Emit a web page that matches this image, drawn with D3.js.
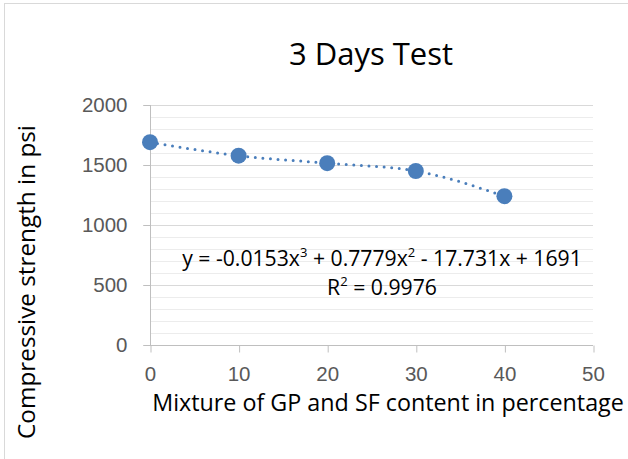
<!DOCTYPE html>
<html>
<head>
<meta charset="utf-8">
<script src="https://cdn.jsdelivr.net/npm/d3@7"></script>
<style>
  body{margin:0;background:#fff;}
  svg{display:block;font-family:"Open Sans",sans-serif;}
  .grid-major line{stroke:#d9d9d9;stroke-width:1;}
  .grid-minor line{stroke:#ececec;stroke-width:1;}
  .axis path,.axis line{stroke:#bfbfbf;stroke-width:1;}
  .axis text{fill:#595959;font-size:20.5px;}
  .trend{fill:none;stroke:#4a7ebb;stroke-width:3;stroke-linecap:round;stroke-dasharray:0 7.6;}
  .dot{fill:#4a7ebb;}
</style>
</head>
<body>
<div id="chart"></div>
<script>
const mixture=[0,10,20,30,40];
const strength=[1690,1578,1515,1450,1240];
const xTicks=[0,10,20,30,40,50];
const yTicks=[0,500,1000,1500,2000];
const yMinor=d3.range(0,2001,100);
const title='3 Days Test';
const xTitle='Mixture of GP and SF content in percentage';
const yTitle='Compressive strength in psi';

const width=628,height=459;
const margin={top:105,right:35,bottom:114,left:150},
      W=width-margin.left-margin.right,
      H=height-margin.top-margin.bottom;

const svg=d3.select('#chart').append('svg')
  .attr('width',width).attr('height',height);

svg.append('rect')
  .attr('x',4.5).attr('y',3.5).attr('width',700).attr('height',700)
  .attr('fill','#fff').attr('stroke','#d9d9d9');

const g=svg.append('g').attr('transform',`translate(${margin.left},${margin.top})`);

const x=d3.scaleLinear().domain([0,50]).range([0,W]);
const y=d3.scaleLinear().domain([0,2000]).range([H,0]);

// minor gridlines
g.append('g').attr('class','grid-minor')
  .selectAll('line').data(yMinor.filter(v=>v%500!==0)).enter().append('line')
  .attr('x1',0).attr('x2',W)
  .attr('y1',d=>Math.round(y(d))+.5).attr('y2',d=>Math.round(y(d))+.5);

// major gridlines with tick stubs
g.append('g').attr('class','grid-major')
  .selectAll('line').data(yTicks).enter().append('line')
  .attr('x1',-7).attr('x2',W)
  .attr('y1',d=>Math.round(y(d))+.5).attr('y2',d=>Math.round(y(d))+.5);

// y axis
const yAxis=g.append('g').attr('class','axis y')
  .attr('transform','translate(0.5,0)')
  .call(d3.axisLeft(y).tickValues(yTicks).tickSize(7).tickPadding(16).tickFormat(d3.format('d')));
yAxis.select('.domain').attr('d',`M0,${y(2000)}V${y(0)}`);

// x axis
const xAxis=g.append('g').attr('class','axis x')
  .attr('transform',`translate(0,${Math.round(H)+.5})`)
  .call(d3.axisBottom(x).tickValues(xTicks).tickSize(7).tickPadding(14).tickFormat(d3.format('d')));
xAxis.select('.domain').attr('d',`M0,0H${W}`);
xAxis.selectAll('.tick line').attr('transform','translate(0.5,0)');

// trendline
const pts=mixture.map((m,i)=>({m,s:strength[i]}));
g.append('path').datum(pts).attr('class','trend')
  .attr('d',d3.line().x(d=>x(d.m)).y(d=>y(d.s)).curve(d3.curveMonotoneX));

// points
g.selectAll('.dot').data(pts).enter().append('circle')
  .attr('class','dot').attr('r',8)
  .attr('cx',d=>x(d.m)).attr('cy',d=>y(d.s));

// equation label
const eq=svg.append('text').attr('x',382).attr('y',266)
  .attr('text-anchor','middle').attr('font-size',21.2).attr('fill','#000');
eq.append('tspan').text('y = -0.0153x');
eq.append('tspan').attr('font-size',13).attr('dy',-9).text('3');
eq.append('tspan').attr('dy',9).text(' + 0.7779x');
eq.append('tspan').attr('font-size',13).attr('dy',-9).text('2');
eq.append('tspan').attr('dy',9).text(' - 17.731x + 1691');

const r2=svg.append('text').attr('x',382).attr('y',295)
  .attr('text-anchor','middle').attr('font-size',21.2).attr('fill','#000');
r2.append('tspan').text('R');
r2.append('tspan').attr('font-size',13).attr('dy',-9).text('2');
r2.append('tspan').attr('dy',9).text(' = 0.9976');

// titles
svg.append('text').attr('x',371).attr('y',65)
  .attr('text-anchor','middle').attr('font-size',31).attr('fill','#000').text(title);

svg.append('text').attr('x',388).attr('y',411)
  .attr('text-anchor','middle').attr('font-size',23.3).attr('fill','#000').text(xTitle);

svg.append('text').attr('transform','translate(35,282) rotate(-90)')
  .attr('text-anchor','middle').attr('font-size',24.3).attr('fill','#000').text(yTitle);
</script>
</body>
</html>
